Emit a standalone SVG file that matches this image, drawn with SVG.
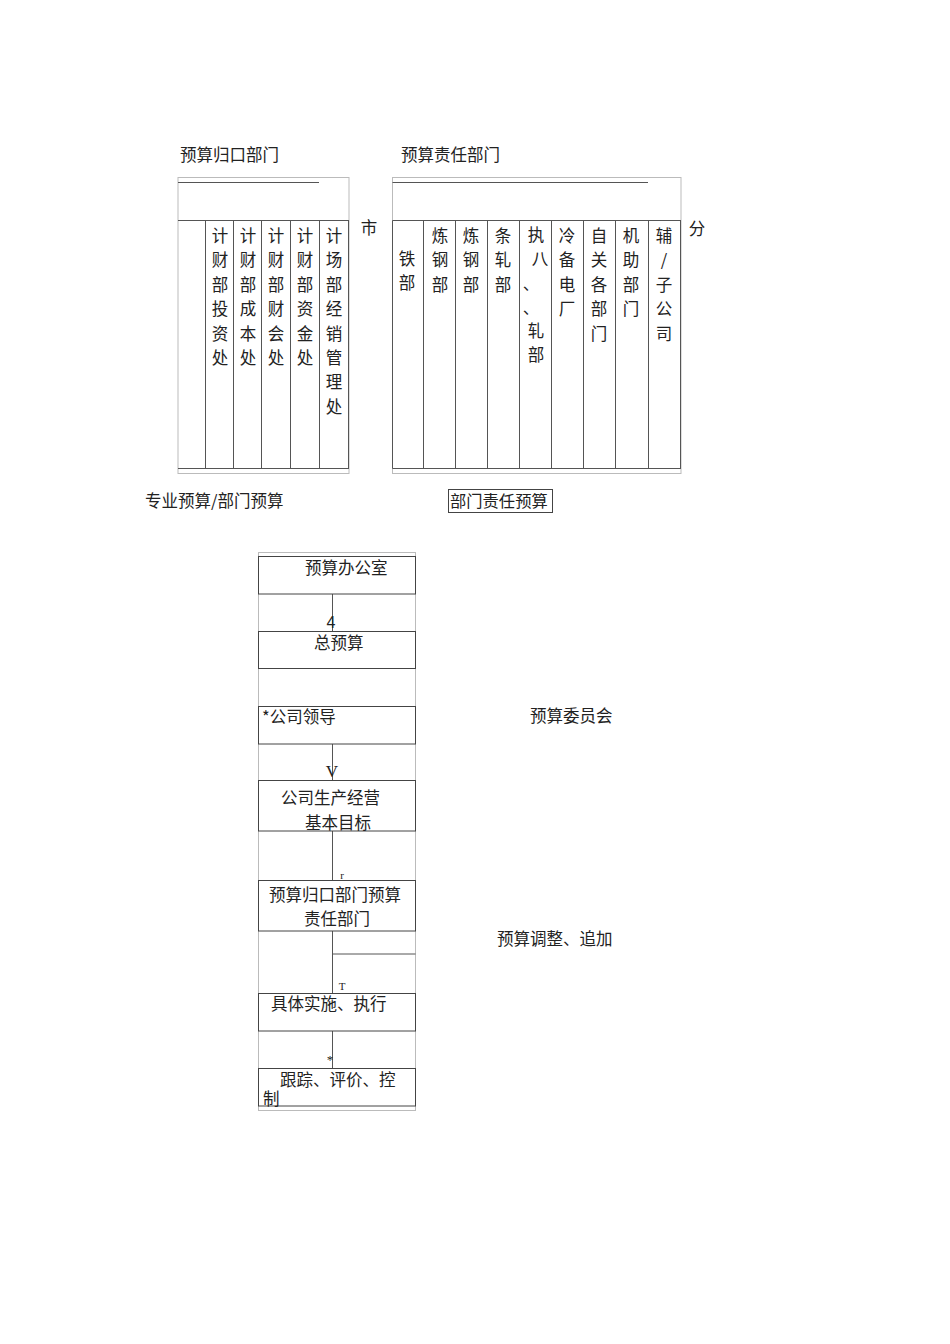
<svg xmlns="http://www.w3.org/2000/svg" width="950" height="1344" viewBox="0 0 950 1344">
<style>
.t{font-family:"Noto Sans CJK SC","Liberation Serif",sans-serif;font-size:16.5px;fill:#222}
.c{text-anchor:middle}
.lt{fill:none;stroke:#bbb;stroke-width:1}
.dk{fill:none;stroke:#555;stroke-width:1}
.bx{fill:none;stroke:#444;stroke-width:1}
.m{font-family:"Liberation Serif",serif;fill:#222}
</style>
<rect width="950" height="1344" fill="#fff"/>
<g id="title-left"><text class="t" x="180" y="161">预算归口部门</text></g>
<g id="title-right"><text class="t" x="401" y="161">预算责任部门</text></g>

<g id="table-left">
<rect class="lt" x="178" y="177.5" width="171" height="296"/>
<line class="dk" x1="178" y1="182.5" x2="319" y2="182.5"/>
<line class="dk" x1="178" y1="220.5" x2="349" y2="220.5"/>
<line class="dk" x1="178" y1="468.5" x2="349" y2="468.5"/>
<line class="dk" x1="205.5" y1="220.5" x2="205.5" y2="468.5"/>
<line class="dk" x1="233.5" y1="220.5" x2="233.5" y2="468.5"/>
<line class="dk" x1="261.5" y1="220.5" x2="261.5" y2="468.5"/>
<line class="dk" x1="290.5" y1="220.5" x2="290.5" y2="468.5"/>
<line class="dk" x1="319.5" y1="220.5" x2="319.5" y2="468.5"/>
<line class="dk" x1="348.5" y1="220.5" x2="348.5" y2="468.5"/>
<text class="t c" x="220" y="242"><tspan x="220">计</tspan><tspan x="220" dy="24.4">财</tspan><tspan x="220" dy="24.4">部</tspan><tspan x="220" dy="24.4">投</tspan><tspan x="220" dy="24.4">资</tspan><tspan x="220" dy="24.4">处</tspan></text>
<text class="t c" x="248" y="242"><tspan x="248">计</tspan><tspan x="248" dy="24.4">财</tspan><tspan x="248" dy="24.4">部</tspan><tspan x="248" dy="24.4">成</tspan><tspan x="248" dy="24.4">本</tspan><tspan x="248" dy="24.4">处</tspan></text>
<text class="t c" x="276" y="242"><tspan x="276">计</tspan><tspan x="276" dy="24.4">财</tspan><tspan x="276" dy="24.4">部</tspan><tspan x="276" dy="24.4">财</tspan><tspan x="276" dy="24.4">会</tspan><tspan x="276" dy="24.4">处</tspan></text>
<text class="t c" x="305" y="242"><tspan x="305">计</tspan><tspan x="305" dy="24.4">财</tspan><tspan x="305" dy="24.4">部</tspan><tspan x="305" dy="24.4">资</tspan><tspan x="305" dy="24.4">金</tspan><tspan x="305" dy="24.4">处</tspan></text>
<text class="t c" x="334" y="242"><tspan x="334">计</tspan><tspan x="334" dy="24.4">场</tspan><tspan x="334" dy="24.4">部</tspan><tspan x="334" dy="24.4">经</tspan><tspan x="334" dy="24.4">销</tspan><tspan x="334" dy="24.4">管</tspan><tspan x="334" dy="24.4">理</tspan><tspan x="334" dy="24.4">处</tspan></text>
</g>
<g id="label-shi"><text class="t c" x="369" y="234">市</text></g>

<g id="table-right">
<rect class="lt" x="392.5" y="177.5" width="288.5" height="296"/>
<line class="dk" x1="392.5" y1="182.5" x2="648" y2="182.5"/>
<line class="dk" x1="392.5" y1="220.5" x2="681" y2="220.5"/>
<line class="dk" x1="392.5" y1="468.5" x2="681" y2="468.5"/>
<line class="dk" x1="392.5" y1="220.5" x2="392.5" y2="468.5"/>
<line class="dk" x1="423.5" y1="220.5" x2="423.5" y2="468.5"/>
<line class="dk" x1="455.5" y1="220.5" x2="455.5" y2="468.5"/>
<line class="dk" x1="487.5" y1="220.5" x2="487.5" y2="468.5"/>
<line class="dk" x1="519.5" y1="220.5" x2="519.5" y2="468.5"/>
<line class="dk" x1="551.5" y1="220.5" x2="551.5" y2="468.5"/>
<line class="dk" x1="583.5" y1="220.5" x2="583.5" y2="468.5"/>
<line class="dk" x1="615.5" y1="220.5" x2="615.5" y2="468.5"/>
<line class="dk" x1="648.5" y1="220.5" x2="648.5" y2="468.5"/>
<line class="dk" x1="680.5" y1="220.5" x2="680.5" y2="468.5"/>
<text class="t c" x="407" y="265"><tspan x="407">铁</tspan><tspan x="407" dy="24.4">部</tspan></text>
<text class="t c" x="440" y="242"><tspan x="440">炼</tspan><tspan x="440" dy="24.4">钢</tspan><tspan x="440" dy="24.4">部</tspan></text>
<text class="t c" x="471" y="242"><tspan x="471">炼</tspan><tspan x="471" dy="24.4">钢</tspan><tspan x="471" dy="24.4">部</tspan></text>
<text class="t c" x="503" y="242"><tspan x="503">条</tspan><tspan x="503" dy="24.4">轧</tspan><tspan x="503" dy="24.4">部</tspan></text>
<text class="t c" x="536" y="241"><tspan x="536">执</tspan><tspan x="540" dy="24">八</tspan><tspan x="531" dy="24.6">、</tspan><tspan x="531" dy="24.4">、</tspan><tspan x="536" dy="23">轧</tspan><tspan x="536" dy="24.4">部</tspan></text>
<text class="t c" x="567" y="242"><tspan x="567">冷</tspan><tspan x="567" dy="24.4">备</tspan><tspan x="567" dy="24.4">电</tspan><tspan x="567" dy="24.4">厂</tspan></text>
<text class="t c" x="599" y="242"><tspan x="599">自</tspan><tspan x="599" dy="24.4">关</tspan><tspan x="599" dy="24.4">各</tspan><tspan x="599" dy="24.4">部</tspan><tspan x="599" dy="24.4">门</tspan></text>
<text class="t c" x="631" y="242"><tspan x="631">机</tspan><tspan x="631" dy="24.4">助</tspan><tspan x="631" dy="24.4">部</tspan><tspan x="631" dy="24.4">门</tspan></text>
<text class="t c" x="664" y="242"><tspan x="664">辅</tspan><tspan x="664" dy="24.4">/</tspan><tspan x="664" dy="24.4">子</tspan><tspan x="664" dy="24.4">公</tspan><tspan x="664" dy="24.4">司</tspan></text>
</g>
<g id="label-fen"><text class="t c" x="697" y="235">分</text></g>

<g id="label-zhuanye"><text class="t" x="145" y="507">专业预算/部门预算</text></g>
<g id="label-bumen">
<rect class="bx" x="448.5" y="489.5" width="104" height="23" stroke="#666"/>
<text class="t" x="450" y="507" style="font-size:16.3px">部门责任预算</text>
</g>

<g id="flow-frame"><rect class="lt" x="258.5" y="552.5" width="157" height="558"/></g>

<g id="connectors">
<line class="dk" x1="332.5" y1="594" x2="332.5" y2="631"/>
<line class="dk" x1="332.5" y1="744" x2="332.5" y2="780"/>
<line class="dk" x1="332.5" y1="831" x2="332.5" y2="880"/>
<line class="dk" x1="332.5" y1="931" x2="332.5" y2="993"/>
<line class="dk" x1="332.5" y1="954" x2="415.5" y2="954"/>
<line class="dk" x1="332.5" y1="1031" x2="332.5" y2="1068"/>
<text class="m" x="331" y="628" text-anchor="middle" style="font-family:'Liberation Sans',sans-serif;font-size:16px">4</text>
<text class="m" x="332" y="777" text-anchor="middle" style="font-size:17px">V</text>
<text class="m" x="342" y="879" text-anchor="middle" style="font-size:11px">r</text>
<text class="m" x="342" y="990" text-anchor="middle" style="font-size:11px">T</text>
<text class="m" x="330" y="1064" text-anchor="middle" style="font-size:13px">*</text>
</g>

<g id="node-office"><rect class="bx" x="258.5" y="556.5" width="157" height="37.5"/><text class="t" x="305" y="574">预算办公室</text></g>
<g id="node-total"><rect class="bx" x="258.5" y="631.5" width="157" height="37"/><text class="t" x="314" y="649">总预算</text></g>
<g id="node-leader"><rect class="bx" x="258.5" y="706.5" width="157" height="37.5"/><text class="t" x="262" y="723">*公司领导</text></g>
<g id="node-goal"><rect class="bx" x="258.5" y="780.5" width="157" height="50.5"/><text class="t" x="281" y="804">公司生产经营</text><text class="t" x="305" y="829">基本目标</text></g>
<g id="node-depts"><rect class="bx" x="258.5" y="880.5" width="157" height="50.5"/><text class="t" x="269" y="901">预算归口部门预算</text><text class="t" x="304" y="925">责任部门</text></g>
<g id="node-exec"><rect class="bx" x="258.5" y="993.5" width="157" height="37.5"/><text class="t" x="271" y="1010">具体实施、执行</text></g>
<g id="node-track"><rect class="bx" x="258.5" y="1068.5" width="157" height="37.5"/><text class="t" x="280" y="1086">跟踪、评价、控</text><text class="t" x="263" y="1105">制</text></g>

<g id="label-committee"><text class="t" x="530" y="722">预算委员会</text></g>
<g id="label-adjust"><text class="t" x="497" y="945">预算调整、追加</text></g>
</svg>
